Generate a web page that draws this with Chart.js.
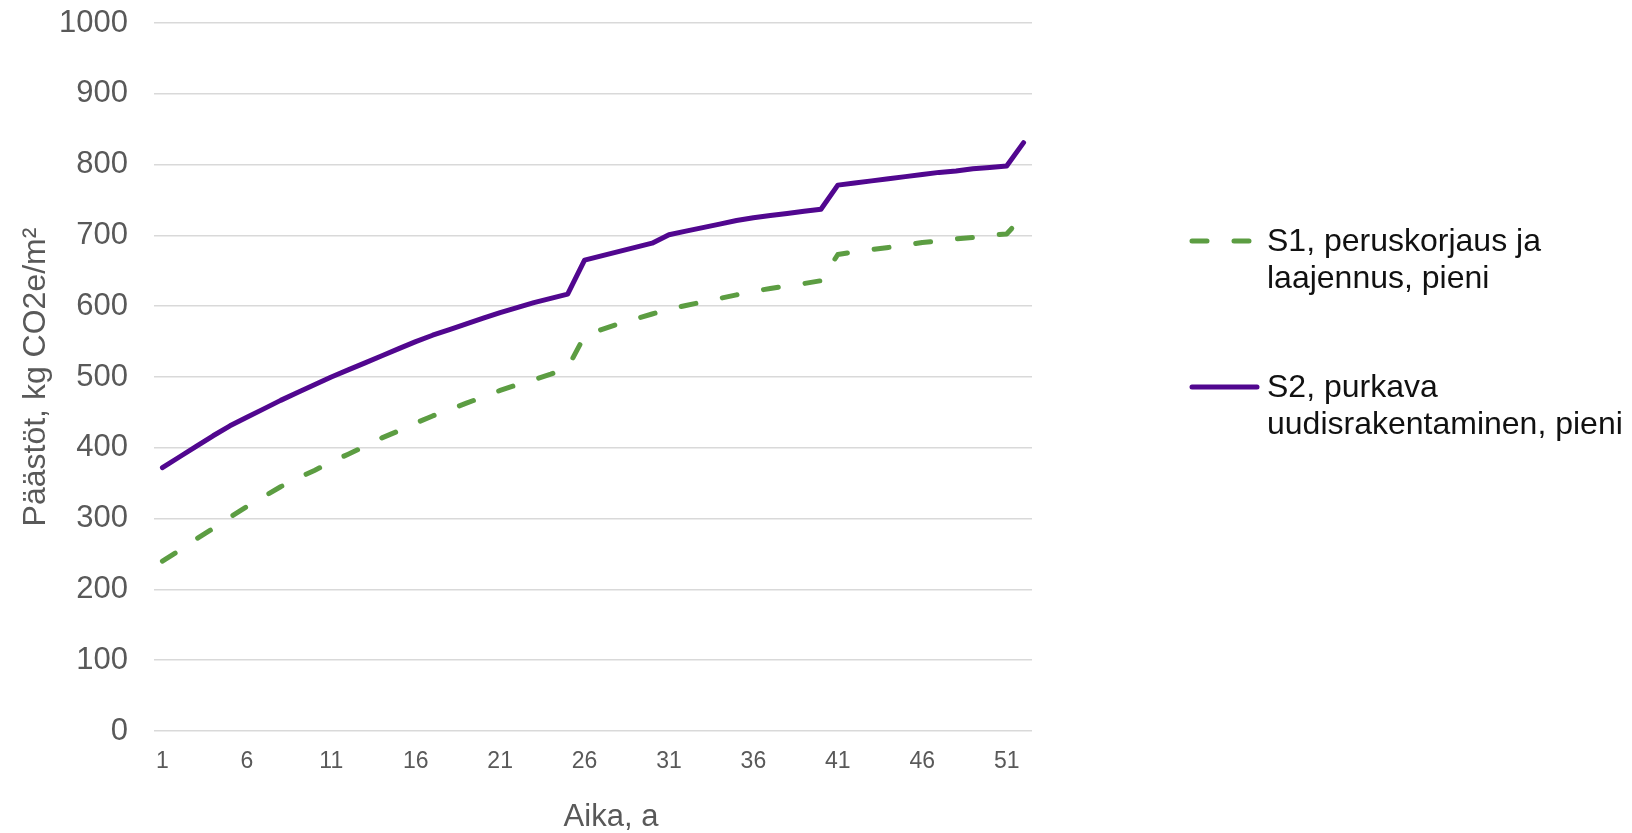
<!DOCTYPE html>
<html lang="fi">
<head>
<meta charset="utf-8">
<title>Päästöt</title>
<script src="https://cdn.jsdelivr.net/npm/chart.js@4/dist/chart.umd.min.js"></script>
<style>
  html, body { margin: 0; padding: 0; background: #ffffff; }
  #wrap { width: 1632px; height: 833px; }
</style>
</head>
<body>
<div id="wrap"><canvas id="chart" width="1632" height="833"></canvas></div>
<script>
// Vuodet (x-akselin luokat)
const years = ['1','2','3','4','5','6','7','8','9','10','11','12','13','14','15','16','17','18','19','20',
  '21','22','23','24','25','26','27','28','29','30','31','32','33','34','35','36','37','38','39','40',
  '41','42','43','44','45','46','47','48','49','50','51','52'];

// Kumulatiiviset päästöt, kg CO2e/m²
const s1Values = [240,255,271,286,302,317,331,345,357,368,380,391,402,414,424,435,445,454,463,472,
  481,489,496,504,513,558,567,575,582,589,596,601,606,611,616,621,625,629,632,636,
  673,677,680,683,686,690,692,695,697,700,702,728];
const s2Values = [372,387,402,417,431,443,455,467,478,489,500,510,520,530,540,550,559,567,575,583,
  591,598,605,611,617,665,671,677,683,689,701,706,711,716,721,725,728,731,734,737,
  771,774,777,780,783,786,789,791,794,796,798,831];

// Sarjojen nimet selitteeseen (rivitettyinä)
const s1Name = ['S1, peruskorjaus ja', 'laajennus, pieni'];
const s2Name = ['S2, purkava', 'uudisrakentaminen, pieni'];

// Näytettävät x-akselin tunnisteet
const shownYearTicks = ['1','6','11','16','21','26','31','36','41','46','51'];

const yTitle = 'Päästöt, kg CO2e/m²';
const xTitle = 'Aika, a';

const FONT = "'Liberation Sans', Arial, Helvetica, sans-serif";
const GREEN = '#5c9d42';
const PURPLE = '#51078f';
const AXIS_TEXT = '#595959';

// Oikeanpuoleinen selite (monirivinen) ja x-akselin otsikko
const sideLegend = {
  id: 'sideLegend',
  afterDraw(chart, args, opts) {
    const ctx = chart.ctx;
    const area = chart.chartArea;
    ctx.save();

    // x-akselin otsikko, hieman oikealle kuva-alan keskeltä
    ctx.font = opts.xTitleSize + 'px ' + FONT;
    ctx.fillStyle = AXIS_TEXT;
    ctx.textAlign = 'center';
    ctx.textBaseline = 'middle';
    ctx.fillText(xTitle, (area.left + area.right) / 2 + opts.xTitleShift, opts.xTitleY);

    ctx.font = opts.fontSize + 'px ' + FONT;
    ctx.fillStyle = opts.color;
    ctx.textAlign = 'left';
    ctx.textBaseline = 'alphabetic';
    opts.entries.forEach((entry, i) => {
      const ds = chart.data.datasets[entry.dataset];
      const y = opts.top + i * opts.gap;
      ctx.save();
      ctx.strokeStyle = ds.borderColor;
      ctx.lineWidth = ds.borderWidth;
      ctx.lineCap = 'round';
      ctx.setLineDash(ds.borderDash || []);
      ctx.beginPath();
      ctx.moveTo(opts.x0, y);
      ctx.lineTo(opts.x1, y);
      ctx.stroke();
      ctx.restore();
      entry.lines.forEach((line, j) => {
        ctx.fillText(line, opts.textX, y + opts.baselineShift + j * opts.lineHeight);
      });
    });
    ctx.restore();
  }
};

new Chart(document.getElementById('chart'), {
  type: 'line',
  data: {
    labels: years,
    datasets: [
      {
        label: s1Name.join(' '),
        data: s1Values,
        borderColor: GREEN,
        backgroundColor: GREEN,
        borderWidth: 5,
        borderDash: [15, 27],
        borderCapStyle: 'round',
        borderJoinStyle: 'round',
        pointRadius: 0,
        tension: 0,
        fill: false
      },
      {
        label: s2Name.join(' '),
        data: s2Values,
        borderColor: PURPLE,
        backgroundColor: PURPLE,
        borderWidth: 5,
        borderCapStyle: 'round',
        borderJoinStyle: 'round',
        pointRadius: 0,
        tension: 0,
        fill: false
      }
    ]
  },
  options: {
    responsive: false,
    animation: false,
    events: [],
    layout: { padding: { left: 9, right: 600, top: 23, bottom: 0 } },
    plugins: {
      legend: { display: false },
      tooltip: { enabled: false },
      sideLegend: {
        entries: [
          { dataset: 0, lines: s1Name },
          { dataset: 1, lines: s2Name }
        ],
        x0: 1192, x1: 1257, textX: 1267,
        top: 241, gap: 146,
        baselineShift: 10, lineHeight: 37.3,
        fontSize: 32, color: '#111111',
        xTitleSize: 31, xTitleShift: 18, xTitleY: 817
      }
    },
    scales: {
      x: {
        type: 'category',
        offset: true,
        grid: { display: false, drawTicks: false },
        border: { display: false },
        afterFit(scale) { scale.height = 102; },
        ticks: {
          autoSkip: false,
          maxRotation: 0,
          minRotation: 0,
          padding: 17,
          color: AXIS_TEXT,
          font: { family: FONT, size: 23, lineHeight: 1.2 },
          callback(value) {
            const lbl = this.getLabelForValue(value);
            return shownYearTicks.includes(lbl) ? lbl : '';
          }
        },
        title: { display: false }
      },
      y: {
        min: 0,
        max: 1000,
        grid: { color: '#d9d9d9', lineWidth: 1.5, drawTicks: false },
        border: { display: false },
        afterFit(scale) {
          scale.width = 145;
          scale.paddingTop = 0;
          scale.paddingBottom = 0;
        },
        ticks: {
          stepSize: 100,
          padding: 26,
          color: AXIS_TEXT,
          font: { family: FONT, size: 31, lineHeight: 1.2 },
          callback(value) { return String(value); }
        },
        title: {
          display: true,
          text: yTitle,
          color: AXIS_TEXT,
          font: { family: FONT, size: 32, lineHeight: 1.2 },
          padding: 8
        }
      }
    }
  },
  plugins: [sideLegend]
});
</script>
</body>
</html>
